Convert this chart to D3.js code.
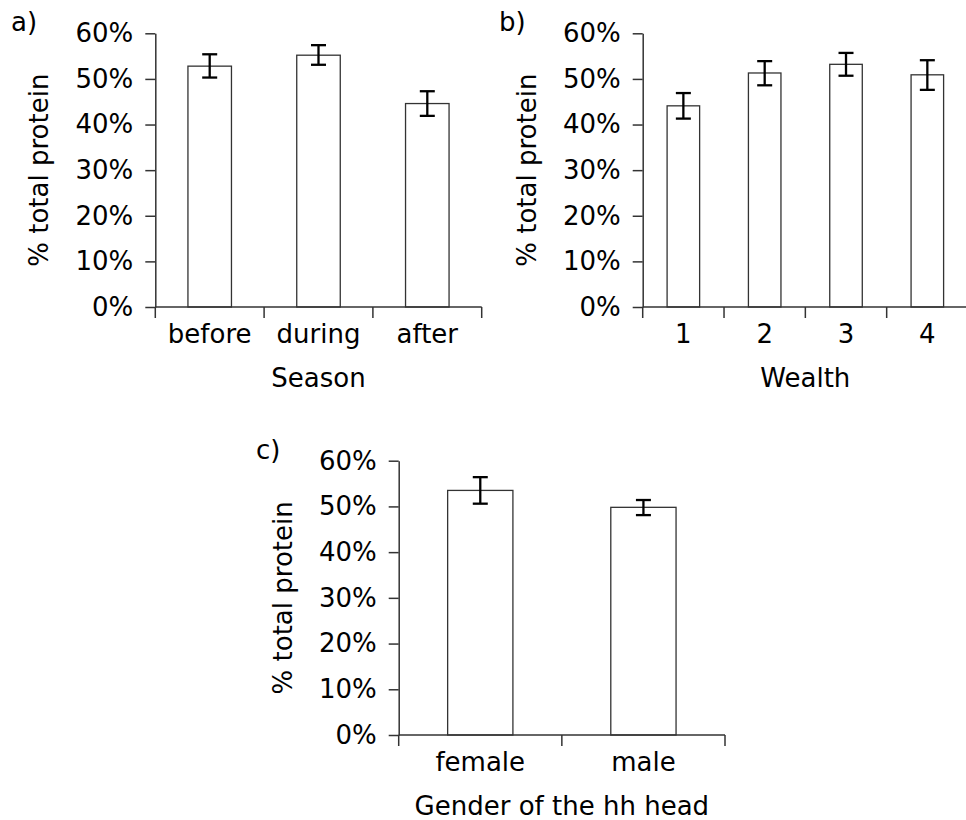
<!DOCTYPE html>
<html>
<head>
<meta charset="utf-8">
<script src="https://cdn.jsdelivr.net/npm/d3@7"></script>
<style>
  html, body { margin: 0; padding: 0; background: #fff; }
  svg { display: block; }
  text { font-family: "DejaVu Sans", sans-serif; fill: #000; }
</style>
</head>
<body>
<svg id="chart" width="966" height="820"></svg>
<script>
// ---- data ----
const yTicks = [0, 0.1, 0.2, 0.3, 0.4, 0.5, 0.6];

const seasonCats = ["before", "during", "after"];
const seasonMean = [0.528, 0.552, 0.446];
const seasonLow  = [0.503, 0.531, 0.419];
const seasonHigh = [0.554, 0.574, 0.473];

const wealthCats = ["1", "2", "3", "4"];
const wealthMean = [0.441, 0.513, 0.532, 0.509];
const wealthLow  = [0.413, 0.486, 0.507, 0.476];
const wealthHigh = [0.469, 0.539, 0.557, 0.541];

const genderCats = ["female", "male"];
const genderMean = [0.535, 0.498];
const genderLow  = [0.506, 0.481];
const genderHigh = [0.564, 0.514];

// ---- drawing ----
const svg = d3.select("#chart");
const fs = 26;

function panel(opt) {
  const g = svg.append("g");
  const x = d3.scaleBand().domain(opt.cats).range([opt.x0, opt.x1]).paddingInner(0).paddingOuter(0);
  const y = d3.scaleLinear().domain([0, 0.6]).range([opt.y0, opt.y1]);
  const bw = x.bandwidth() * 0.4;

  // bars
  g.selectAll("rect.bar").data(opt.cats).join("rect")
    .attr("x", d => x(d) + (x.bandwidth() - bw) / 2)
    .attr("y", (d, i) => y(opt.mean[i]))
    .attr("width", bw)
    .attr("height", (d, i) => y(0) - y(opt.mean[i]))
    .attr("fill", "#fff").attr("stroke", "#333").attr("stroke-width", 1.3);

  // error bars
  const cap = 7.5;
  const eb = g.selectAll("g.eb").data(opt.cats).join("g")
    .attr("stroke", "#000").attr("stroke-width", 2.3);
  eb.append("line")
    .attr("x1", d => x(d) + x.bandwidth() / 2).attr("x2", d => x(d) + x.bandwidth() / 2)
    .attr("y1", (d, i) => y(opt.low[i])).attr("y2", (d, i) => y(opt.high[i]));
  eb.append("line")
    .attr("x1", d => x(d) + x.bandwidth() / 2 - cap).attr("x2", d => x(d) + x.bandwidth() / 2 + cap)
    .attr("y1", (d, i) => y(opt.low[i])).attr("y2", (d, i) => y(opt.low[i]));
  eb.append("line")
    .attr("x1", d => x(d) + x.bandwidth() / 2 - cap).attr("x2", d => x(d) + x.bandwidth() / 2 + cap)
    .attr("y1", (d, i) => y(opt.high[i])).attr("y2", (d, i) => y(opt.high[i]));

  // y axis
  const ya = g.append("g").attr("transform", `translate(${opt.x0},0)`)
    .call(d3.axisLeft(y).tickValues(yTicks).tickFormat(d3.format(".0%"))
      .tickSize(10).tickSizeOuter(0).tickPadding(12));
  ya.selectAll("path, line").attr("stroke", "#333").attr("stroke-width", 1.5);
  ya.selectAll("text").style("font-size", fs + "px").style("font-family", "DejaVu Sans").attr("fill", "#000");

  // x axis: line + boundary ticks
  const xg = g.append("g");
  xg.append("line").attr("x1", opt.x0).attr("x2", opt.x1)
    .attr("y1", y(0)).attr("y2", y(0)).attr("stroke", "#333").attr("stroke-width", 1.5);
  const bounds = opt.cats.map(d => x(d)).concat([x(opt.cats[opt.cats.length - 1]) + x.bandwidth()]);
  xg.selectAll("line.tk").data(bounds).join("line").attr("class", "tk")
    .attr("x1", d => d).attr("x2", d => d)
    .attr("y1", y(0)).attr("y2", y(0) + 11)
    .attr("stroke", "#333").attr("stroke-width", 1.5);
  xg.selectAll("text.cl").data(opt.cats).join("text").attr("class", "cl")
    .attr("x", d => x(d) + x.bandwidth() / 2).attr("y", y(0) + 36)
    .attr("text-anchor", "middle").style("font-size", fs + "px").text(d => d);

  // axis titles
  g.append("text")
    .attr("transform", `translate(${opt.x0 - 107},${(opt.y0 + opt.y1) / 2}) rotate(-90)`)
    .attr("text-anchor", "middle").style("font-size", fs + "px").text("% total protein");
  g.append("text")
    .attr("x", (opt.x0 + opt.x1) / 2).attr("y", y(0) + 80)
    .attr("text-anchor", "middle").style("font-size", fs + "px").text(opt.title);

  // panel letter
  g.append("text").attr("x", opt.lx).attr("y", opt.ly)
    .style("font-size", fs + "px").text(opt.label);
}

panel({ cats: seasonCats, mean: seasonMean, low: seasonLow, high: seasonHigh,
  x0: 155.3, x1: 481.7, y0: 307, y1: 33.3, title: "Season", label: "a)", lx: 11, ly: 31 });
panel({ cats: wealthCats, mean: wealthMean, low: wealthLow, high: wealthHigh,
  x0: 642.7, x1: 968, y0: 307, y1: 33.3, title: "Wealth", label: "b)", lx: 499, ly: 31 });
panel({ cats: genderCats, mean: genderMean, low: genderLow, high: genderHigh,
  x0: 398.7, x1: 725, y0: 735, y1: 460.7, title: "Gender of the hh head", label: "c)", lx: 256, ly: 459 });
</script>
</body>
</html>
